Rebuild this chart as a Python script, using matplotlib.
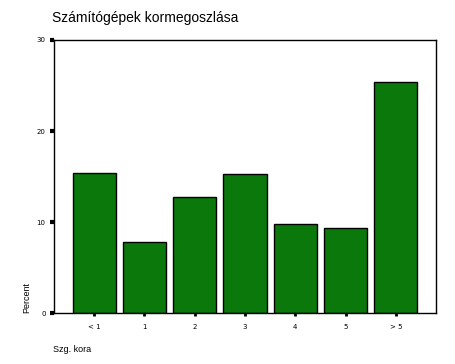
import numpy as np
import matplotlib.pyplot as plt

# adatok
kategoriak = ["< 1", "1", "2", "3", "4", "5", "> 5"]
szazalek = [15.4, 7.8, 12.7, 15.3, 9.8, 9.3, 25.4]
y_ticks = [0, 10, 20, 30]

W, H = 455, 364
fig = plt.figure(figsize=(W / 100, H / 100), dpi=100)
ax = fig.add_axes([54 / W, 1 - 313 / H, (436 - 54) / W, (313 - 40) / H])

x = np.arange(len(kategoriak))
ax.bar(x, szazalek, width=0.86, color="#0b780b", edgecolor="black", linewidth=1.0)

ax.set_xlim(-0.8, len(kategoriak) - 0.2)
ax.set_ylim(0, 30)
ax.set_xticks(x)
ax.set_xticklabels(kategoriak, fontsize=5)
ax.set_yticks(y_ticks)
ax.set_yticklabels([str(v) for v in y_ticks], fontsize=5)
ax.tick_params(axis="x", direction="out", length=2, width=2, pad=6)
ax.tick_params(axis="y", direction="out", length=3, width=3, pad=3)
for s in ax.spines.values():
    s.set_linewidth(1.0)

fig.text(52 / W, 1 - 18 / H, "Számítógépek kormegoszlása", fontsize=10,
         ha="left", va="center", family="Liberation Sans")
fig.text(27 / W, 1 - 313 / H, "Percent", fontsize=6.5, rotation=90,
         ha="center", va="bottom", family="Liberation Sans")
fig.text(53 / W, 1 - 350 / H, "Szg. kora", fontsize=6.5,
         ha="left", va="center", family="Liberation Sans")

fig.savefig("out.png", dpi=100)
